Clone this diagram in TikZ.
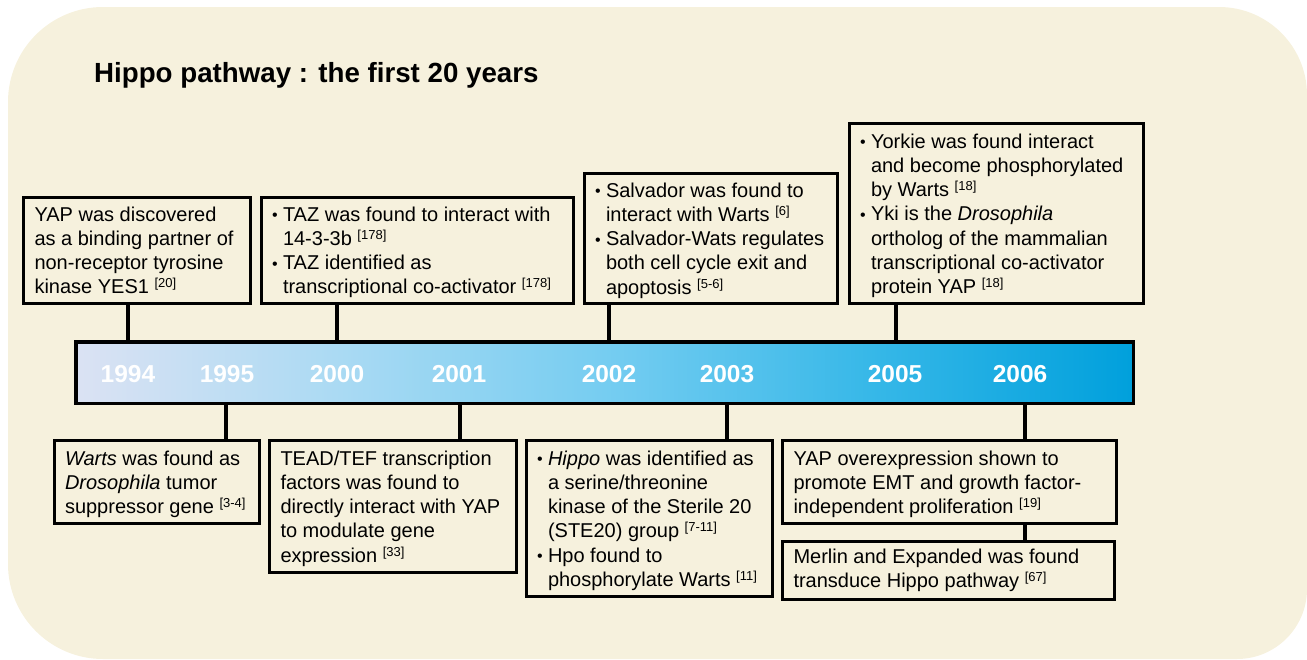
\documentclass[tikz,border=0pt]{standalone}
\usepackage{fontspec}
\setmainfont{Liberation Sans}
\definecolor{bgc}{RGB}{246,241,221}
\definecolor{gzero}{RGB}{219,226,243}
\definecolor{gone}{RGB}{170,218,243}
\definecolor{gtwo}{RGB}{118,205,241}
\definecolor{gthree}{RGB}{55,184,232}
\definecolor{gfour}{RGB}{0,160,220}
\pgfdeclarehorizontalshading{barshade}{100bp}{color(0bp)=(gzero); color(25bp)=(gzero); color(37.5bp)=(gone); color(50bp)=(gtwo); color(62.5bp)=(gthree); color(75bp)=(gfour); color(100bp)=(gfour)}
\newcommand\boxlines[1]{\begin{tabular}[t]{@{}l@{}}#1\end{tabular}}
\newcommand\refsup[1]{\raisebox{6pt}{\fontsize{13}{13}\selectfont[#1]}}
\newcommand\bul{\makebox[11pt][l]{\fontsize{16}{16}\selectfont\raisebox{0.5pt}{•}}}
\newcommand\indt{\hspace*{11pt}}
\begin{document}
\begin{tikzpicture}[x=1pt,y=-1pt,
  evbox/.style={draw, line width=3pt, rectangle, inner sep=0pt, outer sep=0pt, anchor=north west},
  txt/.style={anchor=base west, inner sep=0pt, outer sep=0pt, font=\fontsize{20}{24.3}\selectfont},
  yr/.style={anchor=base, inner sep=0pt, text=white, font=\fontsize{24.5}{26}\selectfont\bfseries},
  conn/.style={line width=4pt},
  ttl/.style={anchor=base west, inner sep=0pt, font=\fontsize{27.7}{30}\selectfont\bfseries}]
\useasboundingbox (0,0) rectangle (1307,659);
% background
\fill[bgc] (8,102) .. controls (8,49.5) and (50.5,7) .. (103,7)
  -- (1219,7) .. controls (1267.6,7) and (1307,46.4) .. (1307,95)
  -- (1307,589) .. controls (1307,627.6) and (1275.6,659) .. (1237,659)
  -- (103,659) .. controls (50.6,659) and (8,616.4) .. (8,564) -- cycle;
% title
\node[ttl] (title) at (94,82) {Hippo pathway : the first 20 years};
% timeline bar
\node[draw, line width=3.5pt, shade, shading=barshade, minimum width=1057.5pt, minimum height=61.5pt, inner sep=0pt, outer sep=0pt, anchor=north west] (bar) at (75.75,341.75) {};
% years
\node[yr] (y94) at (128,382) {1994};
\node[yr] (y95) at (227,382) {1995};
\node[yr] (y00) at (337,382) {2000};
\node[yr] (y01) at (459,382) {2001};
\node[yr] (y02) at (609,382) {2002};
\node[yr] (y03) at (727,382) {2003};
\node[yr] (y05) at (895,382) {2005};
\node[yr] (y06) at (1020,382) {2006};
% connector x positions
\coordinate (k94) at (128,0);
\coordinate (k95) at (226,0);
\coordinate (k00) at (337,0);
\coordinate (k01) at (460,0);
\coordinate (k02) at (609,0);
\coordinate (k03) at (727,0);
\coordinate (k05) at (896,0);
\coordinate (k06) at (1025,0);
% top boxes
\node[evbox, minimum width=227pt, minimum height=106pt] (A) at (23.5,197.5) {};
\node[txt] (At) at (34.5,221) {\boxlines{YAP was discovered\\as a binding partner of\\non-receptor tyrosine\\kinase YES1 \refsup{20}}};
\node[evbox, minimum width=312pt, minimum height=106pt] (B) at (261.5,197.5) {};
\node[txt] (Bt) at (272,221) {\boxlines{\bul TAZ was found to interact with\\\indt 14-3-3b \refsup{178}\\\bul TAZ identified as\\\indt transcriptional co-activator \refsup{178}}};
\node[evbox, minimum width=253pt, minimum height=130pt] (C) at (584.5,173.5) {};
\node[txt] (Ct) at (595,197) {\boxlines{\bul Salvador was found to\\\indt interact with Warts \refsup{6}\\\bul Salvador-Wats regulates\\\indt both cell cycle exit and\\\indt apoptosis \refsup{5-6}}};
\node[evbox, minimum width=294pt, minimum height=180pt] (D) at (849.5,123.5) {};
\node[txt] (Dt) at (860,148) {\boxlines{\bul Yorkie was found interact\\\indt and become phosphorylated\\\indt by Warts \refsup{18}\\\bul Yki is the \textit{Drosophila}\\\indt ortholog of the mammalian\\\indt transcriptional co-activator\\\indt protein YAP \refsup{18}}};
% bottom boxes
\node[evbox, minimum width=205pt, minimum height=83pt] (E) at (54.5,440.5) {};
\node[txt] (Et) at (65,465) {\boxlines{\textit{Warts} was found as\\\textit{Drosophila} tumor\\suppressor gene \refsup{3-4}}};
\node[evbox, minimum width=247pt, minimum height=132pt] (F) at (269.5,440.5) {};
\node[txt] (Ft) at (280.5,465) {\boxlines{TEAD/TEF transcription\\factors was found to\\directly interact with YAP\\to modulate gene\\expression \refsup{33}}};
\node[evbox, minimum width=246pt, minimum height=156pt] (G) at (526.5,440.5) {};
\node[txt] (Gt) at (537,465) {\boxlines{\bul\textit{Hippo} was identified as\\\indt a serine/threonine\\\indt kinase of the Sterile 20\\\indt (STE20) group \refsup{7-11}\\\bul Hpo found to\\\indt phosphorylate Warts \refsup{11}}};
\node[evbox, minimum width=334pt, minimum height=83pt] (H) at (782.5,440.5) {};
\node[txt] (Ht) at (793.5,465) {\boxlines{YAP overexpression shown to\\promote EMT and growth factor-\\independent proliferation \refsup{19}}};
\node[evbox, minimum width=332pt, minimum height=58pt] (I) at (782.5,541.5) {};
\node[txt] (It) at (793.5,563) {\boxlines{Merlin and Expanded was found\\transduce Hippo pathway \refsup{67}}};
% connectors
\draw[conn] (A.south -| k94) -- (bar.north -| k94);
\draw[conn] (B.south -| k00) -- (bar.north -| k00);
\draw[conn] (C.south -| k02) -- (bar.north -| k02);
\draw[conn] (D.south -| k05) -- (bar.north -| k05);
\draw[conn] (bar.south -| k95) -- (E.north -| k95);
\draw[conn] (bar.south -| k01) -- (F.north -| k01);
\draw[conn] (bar.south -| k03) -- (G.north -| k03);
\draw[conn] (bar.south -| k06) -- (H.north -| k06);
\draw[conn] (H.south -| k06) -- (I.north -| k06);
\end{tikzpicture}
\end{document}
